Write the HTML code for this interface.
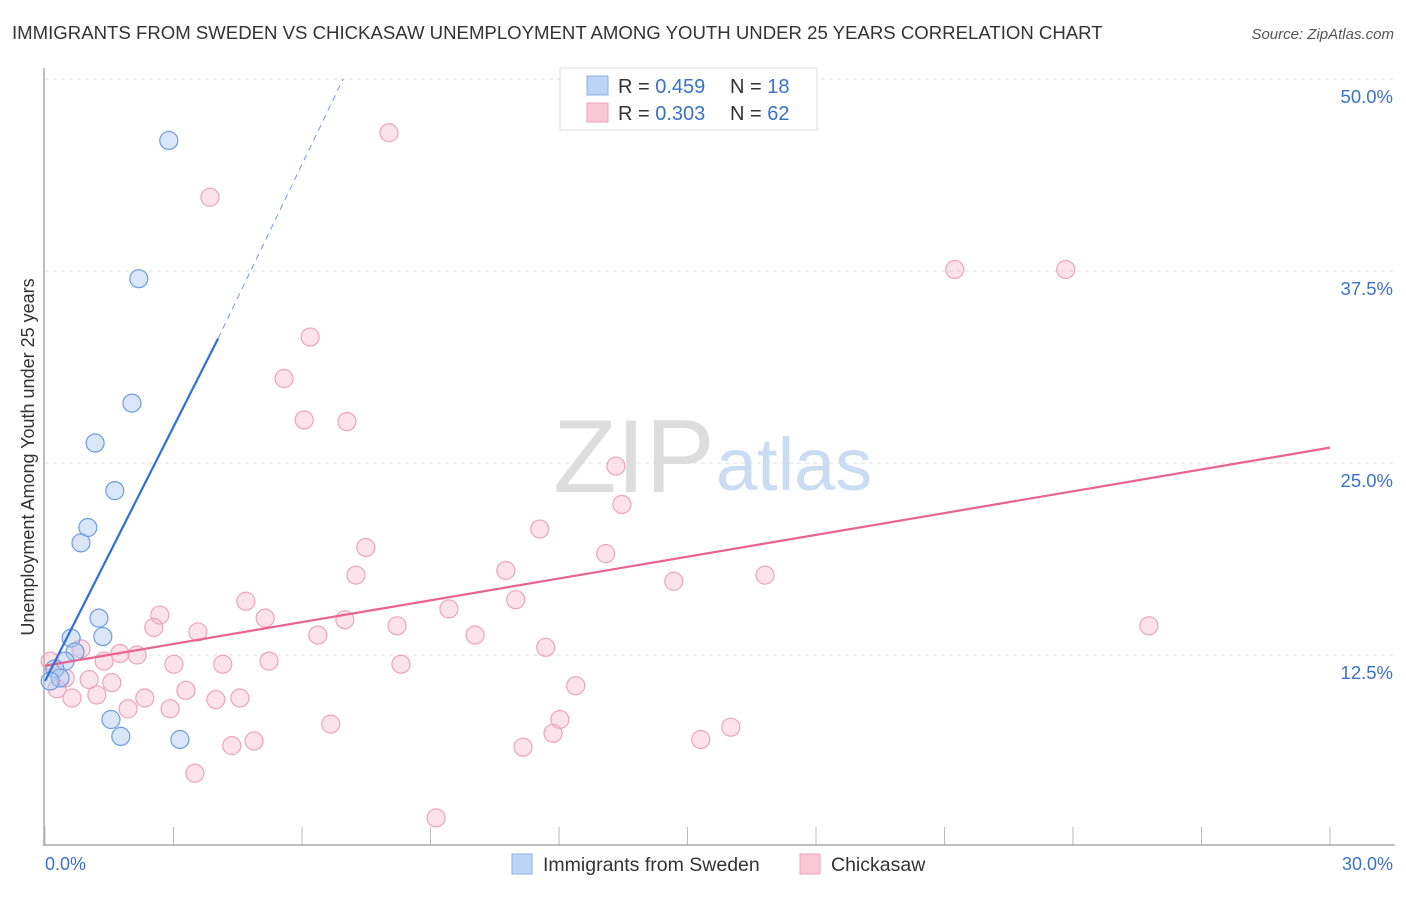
<!DOCTYPE html>
<html><head><meta charset="utf-8"><style>
body{margin:0;background:#fff;font-family:"Liberation Sans",sans-serif;}
svg text{font-family:"Liberation Sans",sans-serif;}
</style></head><body>
<svg id="chart" width="1406" height="892" xmlns="http://www.w3.org/2000/svg">
<text x="12" y="39" font-size="18.6" fill="#333">IMMIGRANTS FROM SWEDEN VS CHICKASAW UNEMPLOYMENT AMONG YOUTH UNDER 25 YEARS CORRELATION CHART</text>
<text x="1394" y="39" font-size="15" fill="#555" font-style="italic" text-anchor="end">Source: ZipAtlas.com</text>
<text x="553" y="492" font-size="104" fill="#ddd" font-family="Liberation Serif">ZIP</text>
<text x="716" y="490" font-size="74" fill="#c9dcf2">atlas</text>
<g id="grid"></g>
<line x1="44" y1="68" x2="44" y2="846" stroke="#aaa" stroke-width="1.5"/>
<line x1="44" y1="845" x2="1395" y2="845" stroke="#aaa" stroke-width="1.5"/>
<text transform="translate(34,457) rotate(-90)" font-size="18" fill="#333" text-anchor="middle">Unemployment Among Youth under 25 years</text>
<text x="45" y="870" font-size="18" fill="#3a72c8">0.0%</text>
<text x="1393" y="870" font-size="18" fill="#3a72c8" text-anchor="end">30.0%</text>
<g id="marks"></g>
<g>
<rect x="560" y="68" width="257" height="62" fill="#fff" stroke="#ddd"/>
<rect x="587" y="76" width="21" height="19" fill="#bcd5f5" stroke="#8ab0e0"/>
<rect x="587" y="103" width="21" height="19" fill="#f9c8d6" stroke="#eda2b8"/>
<text x="618" y="93" font-size="20" fill="#333">R = <tspan fill="#3a72c8">0.459</tspan></text>
<text x="730" y="93" font-size="20" fill="#333">N = <tspan fill="#3a72c8"> 18</tspan></text>
<text x="618" y="120" font-size="20" fill="#333">R = <tspan fill="#3a72c8">0.303</tspan></text>
<text x="730" y="120" font-size="20" fill="#333">N = <tspan fill="#3a72c8">62</tspan></text>
</g>
<g>
<rect x="512" y="854" width="20" height="20" fill="#bcd5f5" stroke="#8ab0e0"/>
<text x="543" y="871" font-size="19.5" fill="#333">Immigrants from Sweden</text>
<rect x="800" y="854" width="20" height="20" fill="#f9c8d6" stroke="#eda2b8"/>
<text x="831" y="871" font-size="19.5" fill="#333">Chickasaw</text>
</g>
</svg>
<script>
const yTicks=[12.5,25,37.5,50];
const yTickLabels=["12.5%","25.0%","37.5%","50.0%"];
const xTicks=[0,3,6,9,12,15,18,21,24,27,30];
const swedenX=[2.89,2.19,2.03,1.17,1.63,1.00,0.84,1.26,0.61,1.35,0.70,0.47,0.23,0.35,0.12,1.54,1.77,3.15];
const swedenY=[46.0,37.0,28.9,26.3,23.2,20.8,19.8,14.9,13.6,13.7,12.7,12.1,11.6,11.0,10.8,8.3,7.2,7.0];
const chickX=[8.03,3.85,21.24,23.83,6.19,5.58,6.05,7.05,13.33,13.47,11.55,7.49,13.09,10.76,7.26,14.68,16.81,10.99,4.69,2.68,9.43,5.14,2.54,7.00,3.57,6.37,8.22,10.04,11.69,25.77,0.84,2.15,1.75,1.38,3.01,4.15,5.23,8.31,0.47,1.03,1.56,3.29,2.33,1.21,4.55,0.28,0.63,3.99,1.94,2.92,12.39,12.02,6.67,11.86,16.01,15.31,4.88,4.36,11.16,3.50,9.13,0.12];
const chickY=[46.5,42.3,37.6,37.6,33.2,30.5,27.8,27.7,24.8,22.3,20.7,19.5,19.1,18.0,17.7,17.3,17.7,16.1,16.0,15.1,15.5,14.9,14.3,14.8,14.0,13.8,14.4,13.8,13.0,14.4,12.9,12.5,12.6,12.1,11.9,11.9,12.1,11.9,11.0,10.9,10.7,10.2,9.7,9.9,9.7,10.3,9.7,9.6,9.0,9.0,10.5,8.3,8.0,7.4,7.8,7.0,6.9,6.6,6.5,4.8,1.9,12.1];
const swedenFit=[[0,10.8],[4.04,33.1],[6.96,50]];
const chickFit=[[0,11.8],[30,26.0]];
const NS="http://www.w3.org/2000/svg";
const xs=v=>45+v/30*1285;
const ys=v=>847-v/50*768;
const grid=document.getElementById('grid');
const marks=document.getElementById('marks');
function mk(tag,attrs,parent){const e=document.createElementNS(NS,tag);for(const k in attrs)e.setAttribute(k,attrs[k]);parent.appendChild(e);return e;}
yTicks.forEach((t,i)=>{
  const l=mk('line',{x1:45,x2:1395,y1:ys(t),y2:ys(t),stroke:'#ddd','stroke-dasharray':'4,4'},grid);
  
  
  const tx=mk('text',{x:1393,y:ys(t)+24,'font-size':18.5,fill:'#3a72c8','text-anchor':'end'},grid);
  tx.textContent=yTickLabels[i];
  
  
});
xTicks.forEach(t=>{
  const l=mk('line',{x1:xs(t),x2:xs(t),y1:827,y2:845,stroke:'#bbb'},grid);
  
  
});
chickX.forEach((x,i)=>{
  const c=mk('circle',{cx:xs(x),cy:ys(chickY[i]),r:9,fill:'rgba(246,176,198,0.35)',stroke:'#eea3bb','stroke-width':1.2},marks);
  
  
});
swedenX.forEach((x,i)=>{
  const c=mk('circle',{cx:xs(x),cy:ys(swedenY[i]),r:9,fill:'rgba(170,200,240,0.45)',stroke:'#6c9be0','stroke-width':1.2},marks);
  
  
});
let l1=mk('line',{x1:xs(chickFit[0][0]),y1:ys(chickFit[0][1]),x2:xs(chickFit[1][0]),y2:ys(chickFit[1][1]),stroke:'#e8648f','stroke-width':2.2},marks);


let l2=mk('line',{x1:xs(swedenFit[0][0]),y1:ys(swedenFit[0][1]),x2:xs(swedenFit[1][0]),y2:ys(swedenFit[1][1]),stroke:'#2f6fd6','stroke-width':2.2},marks);


let l3=mk('line',{x1:xs(swedenFit[1][0]),y1:ys(swedenFit[1][1]),x2:xs(swedenFit[2][0]),y2:ys(swedenFit[2][1]),stroke:'#6c9be0','stroke-width':1,'stroke-dasharray':'6,5'},marks);


</script>
</body></html>
